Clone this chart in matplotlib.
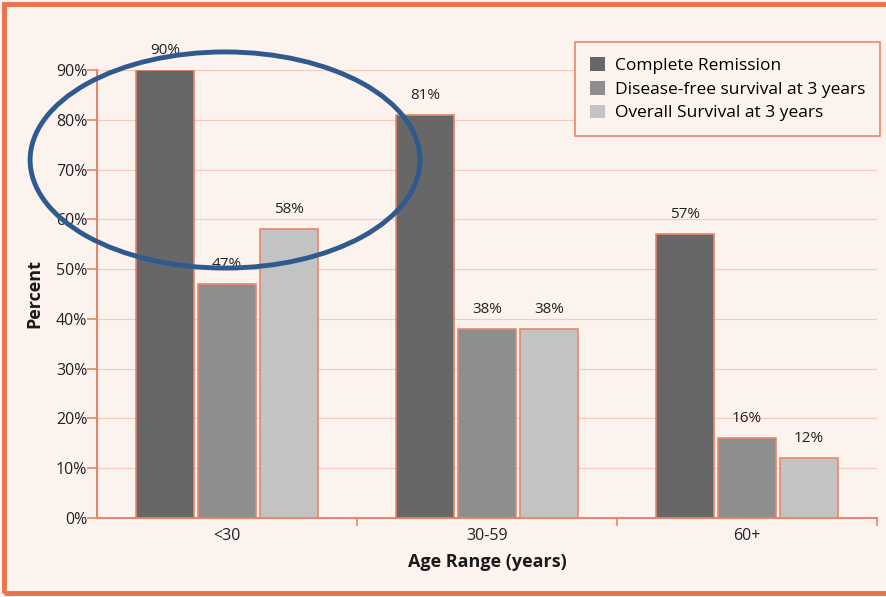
import matplotlib.pyplot as plt
from matplotlib.patches import Ellipse, Rectangle
import numpy as np

plt.rcParams['font.family'] = ['Open Sans', 'DejaVu Sans']

age_groups = ['<30', '30-59', '60+']
series_names = ['Complete Remission', 'Disease-free survival at 3 years', 'Overall Survival at 3 years']
complete_remission = [90, 81, 57]
disease_free = [47, 38, 16]
overall_survival = [58, 38, 12]

bg = '#fdf3ee'
edge = '#e8866c'
grid_c = '#f4cbbd'
colors = ['#676767', '#8e8e8e', '#c3c3c3']

fig = plt.figure(figsize=(8.86, 5.97), dpi=100, facecolor=bg)
ax = fig.add_axes([0.1095, 0.1323, 0.8804, 0.7504])
ax.set_facecolor(bg)

x = np.arange(len(age_groups))
width = 0.222
step = 0.238
all_series = [complete_remission, disease_free, overall_survival]
for i, (vals, name) in enumerate(zip(all_series, series_names)):
    pos = x + (i - 1) * step
    bars = ax.bar(pos, vals, width, color=colors[i], edgecolor=edge, linewidth=1.2,
                  label=name, zorder=3)
    for b, v in zip(bars, vals):
        ax.text(b.get_x() + b.get_width() / 2, v + 2.4, f'{v}%', ha='center', va='bottom',
                fontsize=11, color='#222222')

ax.set_xlim(-0.5, 2.5)
ax.set_ylim(0, 90)
ax.set_yticks(range(0, 91, 10))
ax.set_yticklabels([f'{t}%' for t in range(0, 91, 10)], fontsize=11.5, color='#222222')
ax.set_xticks(x)
ax.set_xticklabels(age_groups, fontsize=11.5, color='#222222')
ax.tick_params(axis='x', length=0, pad=7)
ax.set_xticks([0.5, 1.5, 2.5], minor=True)
ax.tick_params(axis='x', which='minor', length=6, color=edge, direction='out', width=1.2)
ax.tick_params(axis='y', length=7, color=edge, width=1.2, pad=0)
ax.yaxis.grid(True, color=grid_c, linewidth=0.9, zorder=0)
ax.set_axisbelow(True)

for s in ['top', 'right']:
    ax.spines[s].set_visible(False)
for s in ['left', 'bottom']:
    ax.spines[s].set_color(edge)
    ax.spines[s].set_linewidth(1.5)

ax.set_ylabel('Percent', fontsize=13, fontweight='bold', labelpad=9, color='#1a1a1a')
ax.set_xlabel('Age Range (years)', fontsize=13, fontweight='bold', labelpad=7, color='#1a1a1a')

leg = ax.legend(loc='upper right', bbox_to_anchor=(1.004, 1.0625), borderaxespad=0,
                fontsize=12.5, frameon=True, fancybox=False, handlelength=0.85,
                handleheight=0.85, handletextpad=0.6, borderpad=0.85, labelspacing=0.4)
leg.get_frame().set_edgecolor(edge)
leg.get_frame().set_facecolor(bg)
leg.get_frame().set_linewidth(1.2)
leg.get_frame().set_alpha(1)
for h in leg.legend_handles:
    h.set_edgecolor('none')

# highlight ellipse around the <30 group
fig.patches.append(Ellipse((0.254, 0.732), 0.440, 0.362, transform=fig.transFigure,
                           fill=False, edgecolor='#2f5a8e', linewidth=3.5, zorder=10))
# outer orange frame
fig.patches.append(Rectangle((0.005, 0.006), 1.1, 0.988, transform=fig.transFigure,
                             fill=False, edgecolor='#e9744a', linewidth=3.5))

fig.savefig('out.png', dpi=100, facecolor=bg)
